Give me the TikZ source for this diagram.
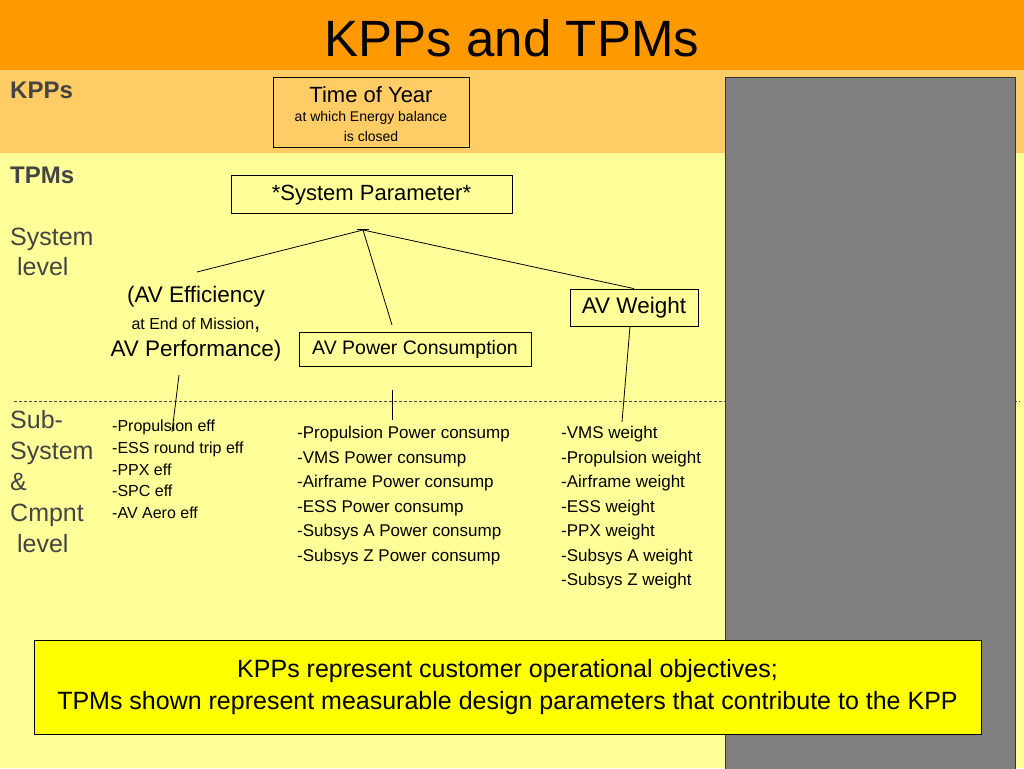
\documentclass[tikz,border=0pt]{standalone}
\usepackage{fontspec}
\setmainfont{Liberation Sans}
\usepackage{tikz}
\usetikzlibrary{positioning,calc}
\definecolor{titleorange}{HTML}{FF9900}
\definecolor{kppband}{HTML}{FFCC66}
\definecolor{tpmband}{HTML}{FFFF99}
\definecolor{notebox}{HTML}{FFFF00}
\definecolor{sidegray}{HTML}{808080}
\definecolor{labelgray}{HTML}{444444}
\newcommand{\fs}[2]{\fontsize{#1}{#2}\selectfont}

\begin{document}
\begin{tikzpicture}[
  x=1pt, y=-1pt,
  box/.style   ={draw,fill=none,inner sep=0pt,align=center,line width=0.8pt},
  side/.style  ={anchor=north west,inner sep=0pt,align=left,text=labelgray},
  item/.style  ={anchor=north west,inner sep=0pt,align=left},
  link/.style  ={line width=0.8pt},
]
\useasboundingbox (0,0) rectangle (1024,768);
% background bands
\fill[tpmband]     (0,0)   rectangle (1024,768);
\fill[kppband]     (0,70)  rectangle (1024,153);
\fill[titleorange] (0,0)   rectangle (1024,70);
\node[font=\fs{51}{56}] (title) at (512,38) {KPPs and TPMs};

% level divider
\draw[line width=0.6pt,black!70,dash pattern=on 3pt off 2pt] (14,401) -- (1020,401);

% left labels
\node[side,font=\fs{24}{28}\bfseries] (kpplbl) at (10,82)  {KPPs};
\node[side,font=\fs{24}{28}\bfseries] (tpmlbl) at (10,167) {TPMs};
\node[side,font=\fs{25}{30}] (syslvl) at (10,228) {System\\ \ level};
\node[side,font=\fs{25}{31}] (sublvl) at (10,410) {Sub-\\System\\\&\\Cmpnt\\ \ level};

% KPP
\node[box,fill=kppband,minimum width=196pt,minimum height=70pt] (toy) at (371,112) {};
\node[inner sep=0pt,align=center,font=\fs{22}{24}] (toytext) at (371,114)
  {Time of Year\\[-5pt]{\fs{14}{18}at which Energy balance}\\[-4pt]{\fs{14}{18}is closed}};

% TPMs
\node[box,minimum width=281pt,minimum height=38pt,font=\fs{22}{24},text depth=3pt] (syspar) at (371.5,194)
  {*System Parameter*};
\coordinate (hub) at (363,230);
\draw[link] (357,229) -- (369,229);

\node[inner sep=0pt,align=center,font=\fs{22.5}{27}] (eff) at (196,324)
  {(AV Efficiency\\ {\fs{16}{27}at End of Mission}{,}\\ AV Performance)};
\node[box,minimum width=232pt,minimum height=34pt,font=\fs{19.5}{22}] (power) at (415,349)
  {AV Power Consumption};
\node[box,minimum width=128pt,minimum height=37pt,font=\fs{22.5}{24}] (weight) at (634,307.5)
  {AV Weight};

\coordinate (effTop)   at (197,272);
\coordinate (powTop)   at (392,325);
\draw[link] (hub) -- (effTop);
\draw[link] (hub) -- (powTop);
\draw[link] (hub) -- (weight.north);

% sub-system lists
\node[item,font=\fs{16}{21.6}] (efflist) at (112,420)
  {-Propulsion eff\\-ESS round trip eff\\-PPX eff\\-SPC eff\\-AV Aero eff};
\node[item,font=\fs{17}{24.5}] (powlist) at (297,426)
  {-Propulsion Power consump\\-VMS Power consump\\-Airframe Power consump\\-ESS Power consump\\-Subsys A Power consump\\-Subsys Z Power consump};
\node[item,font=\fs{17}{24.5}] (wgtlist) at (561,426)
  {-VMS weight\\-Propulsion weight\\-Airframe weight\\-ESS weight\\-PPX weight\\-Subsys A weight\\-Subsys Z weight};

\coordinate (effBot) at (179,375);
\coordinate (effEnd) at (172,432);
\coordinate (powBot) at (392,390);
\coordinate (powEnd) at (392,420);
\coordinate (wgtEnd) at (622,422);
\draw[link] (effBot) -- (effEnd);
\draw[link] (powBot) -- (powEnd);
\draw[link] (weight.south -| 630,0) -- (wgtEnd);

% grey panel
\draw[fill=sidegray,draw=black!80,line width=0.8pt] (725,77) rectangle (1015,770);

% note
\node[box,fill=notebox,minimum width=947pt,minimum height=94pt,font=\fs{25}{32}] (note) at (507.5,687)
  {KPPs represent customer operational objectives;\\
   TPMs shown represent measurable design parameters that contribute to the KPP};
\end{tikzpicture}
\end{document}
